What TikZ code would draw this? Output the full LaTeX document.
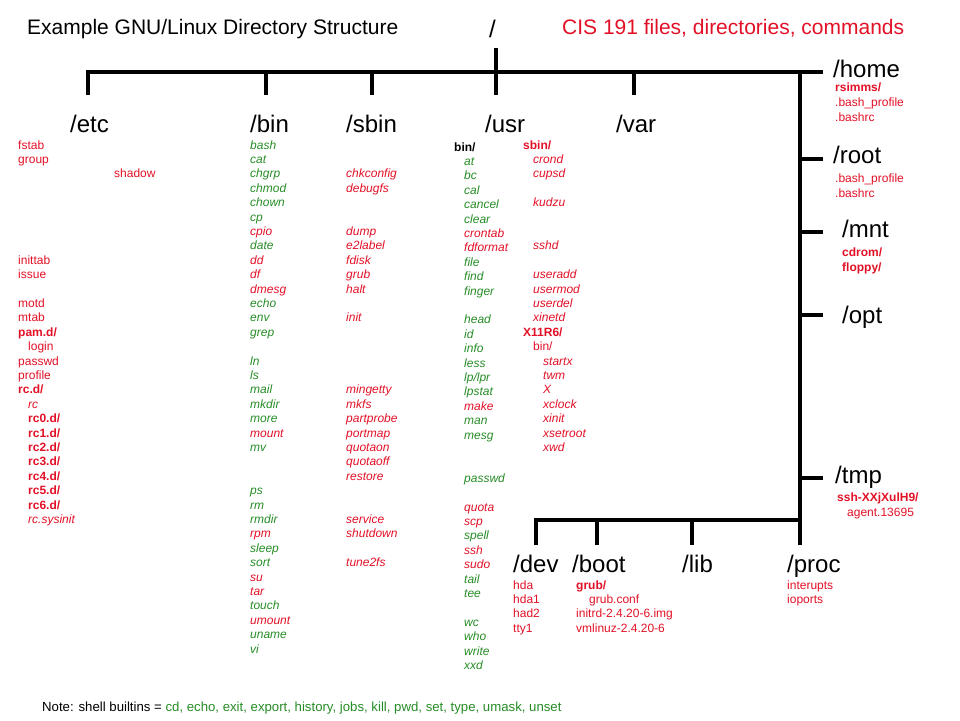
\documentclass[tikz,border=0pt]{standalone}
\usepackage{fontspec}
\setmainfont{Liberation Sans}
\usetikzlibrary{positioning}
\definecolor{file-red}{RGB}{226,16,38}
\definecolor{cmd-green}{RGB}{38,140,38}
\tikzstyle{branch} = [draw=black, line width=4pt]
\tikzstyle{headline} = [anchor=base west, inner sep=0pt, font=\fontsize{21}{25}\selectfont]
\tikzstyle{dirname} = [anchor=base west, inner sep=0pt, font=\fontsize{24}{28}\selectfont]
% lists are placed by the baseline of their last line
\tikzstyle{filelist} = [anchor=base west, inner sep=0pt, align=left, text=file-red, font=\fontsize{12}{14.4}\selectfont]
\tikzstyle{sidelist} = [filelist, font=\fontsize{12}{15}\selectfont]
\newcommand{\gcmd}[1]{\textcolor{cmd-green}{\textit{#1}}}
\newcommand{\rcmd}[1]{\textit{#1}}
\newcommand{\ddir}[1]{\textbf{#1}}
\newcommand{\ind}{\hspace*{10pt}}

\begin{document}
\begin{tikzpicture}[x=1pt, y=-1pt]
    \useasboundingbox (0,0) rectangle (960,720);

    % headings
    \node[headline] at (27, 34) (heading) {Example GNU/Linux Directory Structure};
    \node[dirname] at (489, 37) (slash) {/};
    \node[headline, text=file-red] at (562, 34) (course) {CIS 191 files, directories, commands};

    % tree
    \coordinate (rootTop) at (496, 48);
    \coordinate (rootBase) at (496, 95);
    \coordinate (barEtc) at (88, 95);
    \coordinate (barHome) at (823, 72);
    \coordinate (binTop) at (266, 72);   \coordinate (binBase) at (266, 95);
    \coordinate (sbinTop) at (372, 72);  \coordinate (sbinBase) at (372, 95);
    \coordinate (varTop) at (634, 72);   \coordinate (varBase) at (634, 95);
    \coordinate (spineTop) at (800, 72); \coordinate (procBase) at (800, 545);
    \coordinate (rootL) at (800, 159);   \coordinate (rootR) at (823, 159);
    \coordinate (mntL) at (800, 232);    \coordinate (mntR) at (823, 232);
    \coordinate (optL) at (800, 315);    \coordinate (optR) at (823, 315);
    \coordinate (tmpL) at (800, 478);    \coordinate (tmpR) at (823, 478);
    \coordinate (devBase) at (536, 545); \coordinate (lowBar) at (800, 520);
    \coordinate (bootTop) at (597, 520); \coordinate (bootBase) at (597, 545);
    \coordinate (libTop) at (692, 520);  \coordinate (libBase) at (692, 545);

    \draw[branch] (barEtc) |- (barHome);
    \draw[branch] (rootTop) -- (rootBase);
    \draw[branch] (binTop) -- (binBase);
    \draw[branch] (sbinTop) -- (sbinBase);
    \draw[branch] (varTop) -- (varBase);
    \draw[branch] (spineTop) -- (procBase);
    \draw[branch] (rootL) -- (rootR);
    \draw[branch] (mntL) -- (mntR);
    \draw[branch] (optL) -- (optR);
    \draw[branch] (tmpL) -- (tmpR);
    \draw[branch] (devBase) |- (lowBar);
    \draw[branch] (bootTop) -- (bootBase);
    \draw[branch] (libTop) -- (libBase);

    % top level directories
    \node[dirname] at (70, 132) (etc) {/etc};
    \node[dirname] at (250, 132) (bin) {/bin};
    \node[dirname] at (346, 132) (sbin) {/sbin};
    \node[dirname] at (485, 132) (usr) {/usr};
    \node[dirname] at (616, 132) (var) {/var};

    \node[filelist] at (18, 523.4) (etcfiles) {fstab\\ group\\ \hspace*{96pt}shadow\\ ~\\ ~\\ ~\\ ~\\ ~\\
        inittab\\ issue\\ ~\\ motd\\ mtab\\ \ddir{pam.d/}\\ \ind login\\ passwd\\ profile\\ \ddir{rc.d/}\\
        \ind\rcmd{rc}\\ \ind\ddir{rc0.d/}\\ \ind\ddir{rc1.d/}\\ \ind\ddir{rc2.d/}\\ \ind\ddir{rc3.d/}\\
        \ind\ddir{rc4.d/}\\ \ind\ddir{rc5.d/}\\ \ind\ddir{rc6.d/}\\ \ind\rcmd{rc.sysinit}};

    \node[filelist] at (250, 653) (binfiles) {\gcmd{bash}\\ \gcmd{cat}\\ \gcmd{chgrp}\\ \gcmd{chmod}\\ \gcmd{chown}\\
        \gcmd{cp}\\ \rcmd{cpio}\\ \gcmd{date}\\ \rcmd{dd}\\ \rcmd{df}\\ \rcmd{dmesg}\\ \gcmd{echo}\\ \gcmd{env}\\
        \gcmd{grep}\\ ~\\ \gcmd{ln}\\ \gcmd{ls}\\ \gcmd{mail}\\ \gcmd{mkdir}\\ \gcmd{more}\\ \rcmd{mount}\\ \gcmd{mv}\\
        ~\\ ~\\ \gcmd{ps}\\ \gcmd{rm}\\ \gcmd{rmdir}\\ \rcmd{rpm}\\ \gcmd{sleep}\\ \gcmd{sort}\\ \rcmd{su}\\
        \rcmd{tar}\\ \gcmd{touch}\\ \rcmd{umount}\\ \gcmd{uname}\\ \gcmd{vi}};

    \node[filelist] at (346, 566.6) (sbinfiles) {\rcmd{chkconfig}\\ \rcmd{debugfs}\\ ~\\ ~\\ \rcmd{dump}\\
        \rcmd{e2label}\\ \rcmd{fdisk}\\ \rcmd{grub}\\ \rcmd{halt}\\ ~\\ \rcmd{init}\\ ~\\ ~\\ ~\\ ~\\
        \rcmd{mingetty}\\ \rcmd{mkfs}\\ \rcmd{partprobe}\\ \rcmd{portmap}\\ \rcmd{quotaon}\\ \rcmd{quotaoff}\\
        \rcmd{restore}\\ ~\\ ~\\ \rcmd{service}\\ \rcmd{shutdown}\\ ~\\ \rcmd{tune2fs}};

    \node[filelist] at (454, 669.4) (usrbin) {\textcolor{black}{\ddir{bin/}}\\ \ind\gcmd{at}\\ \ind\gcmd{bc}\\
        \ind\gcmd{cal}\\ \ind\gcmd{cancel}\\ \ind\gcmd{clear}\\ \ind\rcmd{crontab}\\ \ind\rcmd{fdformat}\\
        \ind\gcmd{file}\\ \ind\gcmd{find}\\ \ind\gcmd{finger}\\ ~\\ \ind\gcmd{head}\\ \ind\gcmd{id}\\
        \ind\gcmd{info}\\ \ind\gcmd{less}\\ \ind\gcmd{lp/lpr}\\ \ind\gcmd{lpstat}\\ \ind\rcmd{make}\\
        \ind\gcmd{man}\\ \ind\gcmd{mesg}\\ ~\\ ~\\ \ind\gcmd{passwd}\\ ~\\ \ind\rcmd{quota}\\ \ind\rcmd{scp}\\
        \ind\gcmd{spell}\\ \ind\rcmd{ssh}\\ \ind\rcmd{sudo}\\ \ind\gcmd{tail}\\ \ind\gcmd{tee}\\ ~\\
        \ind\gcmd{wc}\\ \ind\gcmd{who}\\ \ind\gcmd{write}\\ \ind\gcmd{xxd}};

    \node[filelist] at (523, 451.4) (usrsbin) {\ddir{sbin/}\\ \ind\rcmd{crond}\\ \ind\rcmd{cupsd}\\ ~\\
        \ind\rcmd{kudzu}\\ ~\\ ~\\ \ind\rcmd{sshd}\\ ~\\ \ind\rcmd{useradd}\\ \ind\rcmd{usermod}\\
        \ind\rcmd{userdel}\\ \ind\rcmd{xinetd}\\ \ddir{X11R6/}\\ \ind bin/\\ \ind\ind\rcmd{startx}\\
        \ind\ind\rcmd{twm}\\ \ind\ind\rcmd{X}\\ \ind\ind\rcmd{xclock}\\ \ind\ind\rcmd{xinit}\\
        \ind\ind\rcmd{xsetroot}\\ \ind\ind\rcmd{xwd}};

    % right hand branch
    \node[dirname] at (833, 77) (home) {/home};
    \node[sidelist] at (835, 121) (homefiles) {\ddir{rsimms/}\\ .bash\_profile\\ .bashrc};
    \node[dirname] at (833, 163) (root) {/root};
    \node[sidelist] at (835, 197) (rootfiles) {.bash\_profile\\ .bashrc};
    \node[dirname] at (842, 237) (mnt) {/mnt};
    \node[sidelist] at (842, 271) (mntfiles) {\ddir{cdrom/}\\ \ddir{floppy/}};
    \node[dirname] at (842, 323) (opt) {/opt};
    \node[dirname] at (835, 483) (tmp) {/tmp};
    \node[sidelist] at (837, 516) (tmpfiles) {\ddir{ssh-XXjXulH9/}\\ \ind agent.13695};

    % bottom branch
    \node[dirname] at (513, 572) (dev) {/dev};
    \node[filelist] at (513, 632.2) (devfiles) {hda\\ hda1\\ had2\\ tty1};
    \node[dirname] at (572, 572) (boot) {/boot};
    \node[filelist] at (576, 632.2) (bootfiles) {\ddir{grub/}\\ \hspace*{13pt}grub.conf\\ initrd-2.4.20-6.img\\ vmlinuz-2.4.20-6};
    \node[dirname] at (682, 572) (lib) {/lib};
    \node[dirname] at (787, 572) (proc) {/proc};
    \node[filelist] at (787, 603.4) (procfiles) {interupts\\ ioports};

    \node[filelist, text=black, font=\fontsize{13.2}{16}\selectfont] at (42, 711) (note) {Note: shell builtins = \textcolor{cmd-green}{cd, echo, exit, export, history, jobs, kill, pwd, set, type, umask, unset}};
\end{tikzpicture}
\end{document}
